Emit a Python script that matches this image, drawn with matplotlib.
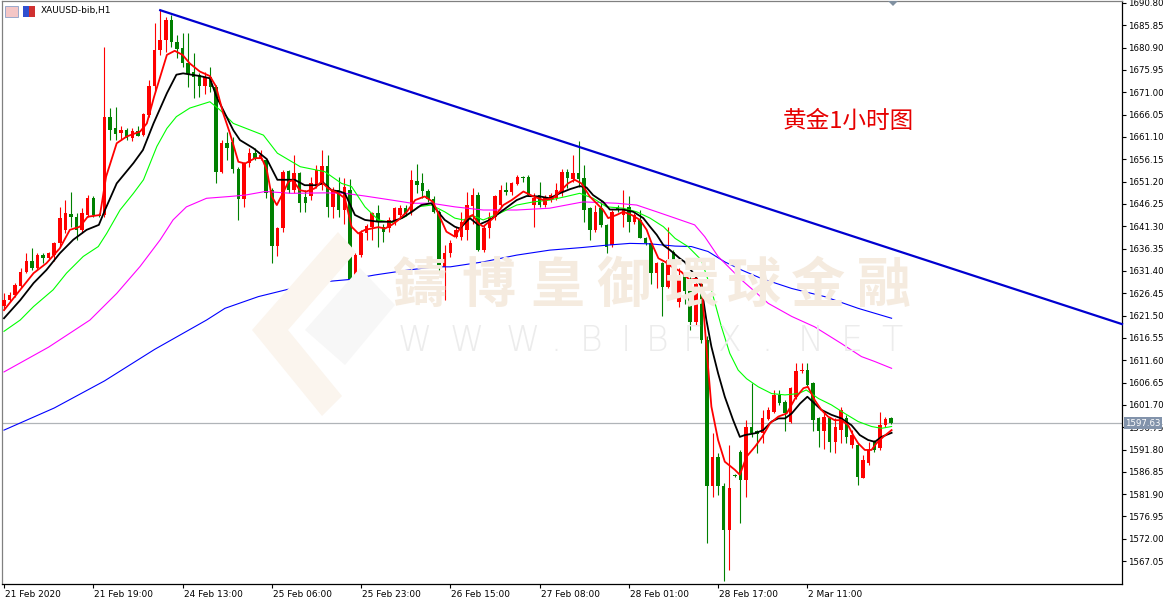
import matplotlib
matplotlib.use("Agg")
import matplotlib.pyplot as plt
from matplotlib.patches import Rectangle, Polygon
import matplotlib.transforms as mtransforms

# ---------------- data ----------------
opens = [1623.6, 1624.9, 1626.1, 1628.1, 1631.2, 1633.5, 1632.0, 1634.9, 1634.2, 1634.9,
         1637.5, 1640.5, 1644.0, 1643.3, 1640.5, 1643.8, 1647.5, 1643.8, 1643.8, 1665.6,
         1663.0, 1661.9, 1662.6, 1660.8, 1662.4, 1661.5, 1666.0, 1672.3, 1680.4, 1682.6,
         1687.0, 1682.2, 1680.9, 1677.4, 1675.4, 1674.8, 1672.4, 1674.3, 1672.1, 1653.4,
         1659.7, 1660.0, 1653.9, 1647.3, 1655.3, 1657.5, 1656.4, 1656.0, 1649.3, 1636.9,
         1640.8, 1653.6, 1649.3, 1653.2, 1647.7, 1647.9, 1650.4, 1650.4, 1654.6, 1645.6,
         1649.3, 1644.9, 1649.3, 1629.5, 1634.9, 1639.7, 1641.2, 1644.2, 1641.1, 1640.8,
         1642.3, 1643.8, 1645.3, 1644.5, 1651.4, 1650.8, 1649.2, 1647.3, 1644.5, 1632.3,
         1635.3, 1639.0, 1639.0, 1640.5, 1645.8, 1648.2, 1636.0, 1640.8, 1643.4, 1646.0,
         1649.3, 1649.0, 1650.7, 1652.3, 1652.3, 1646.0, 1648.2, 1646.0, 1647.1, 1647.5,
         1649.0, 1653.4, 1651.7, 1653.0, 1651.9, 1645.3, 1640.5, 1645.3, 1641.6, 1637.1,
         1645.6, 1643.8, 1645.6, 1642.3, 1642.7, 1638.8, 1637.5, 1630.9, 1633.1, 1627.9,
         1635.5, 1624.5, 1630.5, 1629.5, 1620.0, 1628.6, 1616.1, 1583.6, 1590.2, 1583.6,
         1574.0, 1586.2, 1591.3, 1585.0, 1596.9, 1595.8, 1595.4, 1598.5, 1600.2, 1603.9,
         1602.4, 1598.0, 1603.5, 1609.1, 1609.4, 1606.5, 1598.7, 1595.8, 1598.7, 1593.5,
         1596.1, 1598.7, 1592.8, 1592.8, 1585.4, 1588.7, 1593.5, 1592.1, 1597.2, 1598.7]
highs = [1626.4, 1626.8, 1628.8, 1632.0, 1635.3, 1636.4, 1635.3, 1635.3, 1635.7, 1637.9,
         1645.6, 1647.1, 1649.0, 1644.2, 1645.3, 1648.2, 1647.9, 1644.2, 1681.1, 1667.5,
         1667.8, 1663.5, 1663.0, 1663.0, 1663.5, 1666.5, 1673.7, 1686.3, 1689.2, 1687.8,
         1688.1, 1683.7, 1684.1, 1684.1, 1679.6, 1675.2, 1675.6, 1676.7, 1672.6, 1660.4,
         1662.3, 1661.0, 1654.5, 1655.6, 1658.6, 1658.6, 1658.2, 1656.4, 1649.7, 1641.1,
         1653.8, 1653.8, 1657.1, 1653.4, 1649.3, 1652.3, 1654.9, 1658.2, 1657.1, 1650.1,
         1652.3, 1651.9, 1651.7, 1635.3, 1640.5, 1641.9, 1644.5, 1646.0, 1641.9, 1643.4,
         1645.6, 1646.0, 1646.0, 1653.8, 1655.1, 1653.0, 1649.5, 1647.9, 1644.9, 1637.1,
         1638.3, 1641.2, 1644.5, 1649.0, 1649.7, 1648.9, 1641.6, 1644.5, 1648.2, 1650.4,
         1651.2, 1651.2, 1652.7, 1652.4, 1652.7, 1648.6, 1651.2, 1648.2, 1648.6, 1650.8,
         1654.1, 1654.1, 1657.1, 1660.1, 1654.9, 1645.6, 1646.0, 1647.1, 1641.9, 1644.9,
         1646.0, 1649.3, 1647.9, 1644.2, 1644.9, 1639.0, 1637.9, 1633.4, 1633.4, 1641.2,
         1636.0, 1632.0, 1631.0, 1630.1, 1629.5, 1629.0, 1617.0, 1595.4, 1591.0, 1584.3,
         1592.8, 1586.3, 1591.7, 1598.3, 1606.5, 1596.1, 1600.6, 1601.3, 1605.0, 1605.0,
         1602.8, 1605.7, 1610.9, 1610.9, 1610.9, 1606.8, 1598.9, 1600.2, 1599.1, 1598.7,
         1601.3, 1599.5, 1596.1, 1593.2, 1590.6, 1593.5, 1593.9, 1600.2, 1599.1, 1598.9]
lows = [1622.7, 1624.6, 1625.7, 1627.5, 1630.9, 1631.6, 1631.6, 1633.1, 1633.8, 1633.5,
        1636.8, 1639.7, 1641.2, 1638.3, 1639.7, 1643.4, 1643.4, 1643.3, 1643.4, 1660.4,
        1660.4, 1660.4, 1660.4, 1660.1, 1661.2, 1661.2, 1665.6, 1671.1, 1679.3, 1680.0,
        1681.1, 1678.5, 1676.7, 1672.2, 1669.7, 1670.0, 1670.6, 1671.1, 1650.8, 1653.0,
        1656.0, 1653.0, 1642.7, 1645.6, 1654.5, 1656.0, 1656.0, 1647.5, 1633.1, 1634.6,
        1640.1, 1648.6, 1648.6, 1644.5, 1644.5, 1647.1, 1649.7, 1649.3, 1643.4, 1643.1,
        1643.4, 1641.9, 1625.7, 1629.4, 1634.5, 1638.3, 1638.3, 1636.8, 1637.9, 1640.1,
        1641.6, 1643.4, 1643.6, 1643.8, 1648.6, 1647.5, 1646.7, 1644.2, 1631.2, 1624.9,
        1634.5, 1638.6, 1638.3, 1638.3, 1641.9, 1635.9, 1635.7, 1638.6, 1642.7, 1645.6,
        1648.2, 1648.2, 1650.4, 1651.2, 1647.9, 1641.2, 1645.6, 1645.6, 1646.7, 1647.1,
        1647.9, 1649.7, 1651.2, 1650.1, 1642.3, 1638.3, 1640.1, 1641.2, 1635.3, 1636.8,
        1644.5, 1641.2, 1640.1, 1641.9, 1638.6, 1637.1, 1628.6, 1627.5, 1621.3, 1627.5,
        1625.7, 1623.5, 1624.0, 1618.3, 1619.5, 1615.5, 1571.0, 1581.3, 1581.7, 1562.6,
        1565.1, 1585.8, 1575.4, 1581.3, 1594.6, 1591.0, 1593.2, 1598.3, 1599.8, 1601.7,
        1595.8, 1597.6, 1603.1, 1608.8, 1605.7, 1595.8, 1592.4, 1592.0, 1591.3, 1591.0,
        1593.2, 1593.2, 1592.1, 1583.9, 1585.4, 1588.4, 1591.3, 1591.7, 1596.9, 1597.5]
closes = [1624.9, 1626.1, 1628.3, 1631.2, 1633.5, 1632.0, 1634.9, 1634.2, 1635.3, 1637.5,
          1643.1, 1644.2, 1643.3, 1640.5, 1644.2, 1647.5, 1643.8, 1643.6, 1665.6, 1662.6,
          1661.7, 1662.6, 1660.8, 1662.4, 1661.3, 1666.1, 1672.4, 1680.4, 1682.6, 1687.0,
          1682.2, 1680.5, 1677.4, 1675.1, 1674.5, 1672.4, 1674.5, 1672.1, 1653.4, 1659.7,
          1658.6, 1654.0, 1647.3, 1655.3, 1657.5, 1656.4, 1657.1, 1648.6, 1636.9, 1640.8,
          1653.4, 1649.3, 1653.0, 1646.4, 1646.4, 1650.8, 1653.8, 1654.6, 1645.6, 1649.3,
          1644.9, 1650.1, 1629.5, 1634.9, 1639.9, 1641.4, 1644.3, 1642.3, 1640.1, 1642.7,
          1645.3, 1645.3, 1644.0, 1651.5, 1650.4, 1649.2, 1647.3, 1644.5, 1632.3, 1635.3,
          1637.5, 1640.5, 1642.3, 1646.0, 1648.2, 1636.0, 1640.8, 1643.4, 1647.9, 1649.3,
          1648.9, 1650.8, 1652.3, 1651.9, 1648.2, 1647.5, 1646.0, 1647.5, 1648.2, 1649.3,
          1653.4, 1651.9, 1653.0, 1651.7, 1644.9, 1640.5, 1644.5, 1641.6, 1636.8, 1644.5,
          1644.9, 1644.9, 1642.3, 1643.8, 1638.8, 1637.5, 1630.9, 1633.1, 1627.9, 1633.8,
          1628.0, 1630.5, 1627.0, 1620.0, 1628.6, 1616.1, 1583.6, 1590.2, 1583.6, 1574.0,
          1583.2, 1586.0, 1585.0, 1596.9, 1595.4, 1595.2, 1598.7, 1600.6, 1603.9, 1602.0,
          1599.8, 1605.4, 1609.1, 1609.4, 1606.1, 1598.3, 1595.8, 1599.1, 1593.5, 1596.9,
          1600.6, 1594.6, 1595.0, 1585.8, 1589.5, 1591.7, 1591.7, 1597.2, 1598.5, 1597.63]

# moving averages as (bar position, price)
ma_red = [(0, 1622.7), (2.9, 1627.2), (5.3, 1630.9), (7.6, 1633.1), (10, 1636.4), (11.8, 1640.5),
          (13.6, 1641.2), (15, 1643.4), (17.2, 1643.8), (18.3, 1652.3), (20.2, 1659.7), (22, 1661.2),
          (24.4, 1662.3), (25.6, 1664.1), (26.9, 1670.0), (29.2, 1679.3), (30.6, 1680.2), (32, 1679.3),
          (33.3, 1677.4), (35.1, 1675.6), (36.9, 1674.6), (38, 1672.3), (39.3, 1666.3), (40.5, 1661.9),
          (42, 1655.6), (43.2, 1655.2), (45, 1656.4), (46.2, 1656.4), (47.1, 1653.8), (48, 1647.9),
          (48.9, 1646.0), (50.1, 1648.9), (51, 1651.2), (51.8, 1651.5), (53, 1649.3), (54.2, 1649.0),
          (55.7, 1649.7), (56.9, 1651.2), (58.1, 1649.7), (59.9, 1648.6), (61.1, 1647.5), (62.3, 1641.2),
          (63.5, 1639.7), (64.7, 1640.5), (65.9, 1640.8), (67.1, 1641.1), (68.3, 1640.8), (69.5, 1641.6),
          (70.7, 1642.7), (72.2, 1644.5), (73.7, 1647.1), (75.4, 1647.9), (76.9, 1646.7), (78.1, 1643.4),
          (79.3, 1640.1), (80.8, 1639.0), (82.9, 1643.1), (84, 1643.8), (85, 1642.0), (85.9, 1641.2),
          (87.7, 1643.1), (89.5, 1646.0), (91, 1647.1), (93.1, 1649.0), (94.9, 1647.9), (96.7, 1647.1),
          (98.4, 1647.5), (99.9, 1649.3), (101.1, 1650.8), (102.3, 1651.6), (103.5, 1650.8), (105, 1647.9),
          (106.2, 1646.4), (107.4, 1644.9), (108.3, 1643.1), (109.8, 1643.8), (111, 1644.5), (112.5, 1643.8),
          (114, 1642.7), (115.2, 1640.5), (116.1, 1637.5), (117.3, 1634.2), (118.5, 1633.4), (119.7, 1632.3),
          (121.4, 1631.2), (122.9, 1629.4), (124.1, 1629.7), (125, 1628.6), (125.9, 1614.6), (126.8, 1601.3),
          (128, 1593.9), (129.2, 1589.1), (131, 1587.3), (131.9, 1586.2), (133.1, 1590.2), (134.6, 1592.4),
          (135.9, 1594.6), (137.3, 1597.6), (138.8, 1599.1), (140.3, 1599.8), (141.8, 1603.1), (143.3, 1605.4),
          (144.1, 1605.7), (145.3, 1602.8), (146.5, 1600.6), (147.7, 1599.1), (148.9, 1598.3), (150.1, 1598.3),
          (151.3, 1597.2), (152.2, 1595.0), (153.1, 1593.2), (154.3, 1591.7), (155.5, 1591.7), (156.4, 1593.2),
          (157.6, 1594.6), (159.1, 1596.1)]
ma_black = [(0, 1620.9), (2.9, 1624.9), (5.3, 1628.7), (7.6, 1631.6), (10, 1635.3), (12.4, 1638.3),
            (14.8, 1640.5), (17, 1641.6), (18.1, 1644.9), (20.2, 1650.8), (23.2, 1655.3), (24.9, 1658.2),
            (26.8, 1664.1), (29.2, 1670.8), (30.9, 1674.9), (32.1, 1675.2), (35.1, 1674.6), (36.9, 1674.1),
            (38.1, 1670.0), (41.1, 1662.6), (42.3, 1660.4), (44.7, 1658.6), (47.1, 1656.2), (49, 1651.6),
            (51, 1651.6), (52.1, 1651.6), (53.9, 1650.4), (56.3, 1650.4), (57.2, 1651.0), (58.7, 1649.3),
            (60.2, 1649.0), (61.1, 1648.6), (62.9, 1643.8), (64.7, 1642.7), (67.1, 1642.3), (69.5, 1642.3),
            (71.3, 1643.1), (73.1, 1644.5), (74.8, 1646.0), (76.6, 1646.4), (77.8, 1644.5), (79, 1642.7),
            (80.8, 1641.2), (81.7, 1640.8), (83.5, 1643.1), (85, 1641.6), (87.1, 1642.7), (89.5, 1644.9),
            (91.9, 1647.1), (93.7, 1648.0), (96.1, 1647.9), (97.8, 1647.5), (99.6, 1648.6), (101.4, 1649.5),
            (103.2, 1650.2), (104.4, 1649.9), (105.6, 1648.2), (107.4, 1646.7), (108.6, 1645.0), (111, 1645.0),
            (112.8, 1644.5), (114.6, 1643.1), (115.8, 1641.2), (117, 1639.4), (118.2, 1637.1), (119.4, 1636.0),
            (121.1, 1634.2), (122, 1633.4), (123.8, 1630.5), (125, 1627.9), (125.9, 1620.5), (126.8, 1614.6),
            (128, 1608.7), (129.2, 1603.5), (130.7, 1598.3), (131.9, 1594.6), (132.8, 1595.0), (134.6, 1595.4),
            (136.1, 1596.1), (137.6, 1598.0), (138.8, 1598.7), (140, 1598.7), (141.2, 1599.8), (142.7, 1602.0),
            (144, 1603.5), (145.3, 1602.0), (146.5, 1600.6), (148.3, 1599.5), (150.1, 1598.7), (151.9, 1597.2),
            (153.4, 1595.0), (154.9, 1593.9), (156.1, 1593.5), (157.3, 1594.6), (159.1, 1595.5)]
ma_green = [(0, 1618.0), (2.9, 1620.5), (5.3, 1623.5), (8.8, 1627.2), (11.2, 1630.9), (14.2, 1634.6),
            (16.9, 1636.8), (18.4, 1639.7), (20.8, 1644.9), (23.2, 1648.6), (25, 1651.6), (27.4, 1659.0),
            (29.2, 1663.0), (30.9, 1665.6), (33.3, 1667.5), (35.1, 1668.2), (36.9, 1668.9), (38.7, 1667.1),
            (41.1, 1664.1), (46.5, 1661.5), (49, 1657.5), (53.1, 1654.5), (57.5, 1653.4), (60.5, 1650.8),
            (62.3, 1650.1), (64.7, 1645.6), (67.1, 1642.7), (69.5, 1642.1), (71.9, 1643.4), (74.2, 1645.6),
            (76.6, 1646.0), (79, 1644.5), (80.8, 1643.1), (82.3, 1642.7), (84.1, 1643.6), (85.9, 1642.7),
            (88.9, 1644.2), (91.9, 1646.0), (94.9, 1646.7), (97.8, 1647.1), (100.8, 1647.9), (103.2, 1648.6),
            (105.6, 1647.5), (108, 1645.6), (111, 1645.3), (113.4, 1644.5), (115.8, 1643.1), (118.2, 1641.2),
            (120.3, 1638.6), (122.6, 1636.8), (125, 1633.8), (126.8, 1627.2), (128.6, 1619.0), (130.1, 1613.1),
            (131.6, 1609.4), (133.1, 1607.5), (135.2, 1605.7), (137.6, 1604.2), (140, 1603.9), (142.4, 1604.2),
            (143.8, 1605.0), (146, 1603.1), (148.3, 1601.7), (150.7, 1599.8), (153.1, 1598.0), (155.5, 1596.9),
            (157.3, 1596.5), (159.1, 1596.9)]
ma_magenta = [(0, 1609.0), (8, 1614.5), (15.4, 1620.5), (20.2, 1626.4), (24.4, 1632.4), (28, 1638.3),
              (30.3, 1642.7), (32.7, 1645.6), (36.3, 1647.5), (40.5, 1647.9), (43.2, 1648.2), (46.8, 1649.0),
              (51.5, 1648.6), (57.5, 1648.7), (61.1, 1648.6), (64.7, 1648.0), (69.5, 1647.1), (73.1, 1646.4),
              (76.6, 1646.4), (80.8, 1645.6), (85.9, 1644.9), (91.9, 1644.9), (97.8, 1645.3), (103.8, 1646.7),
              (109.8, 1646.4), (113.4, 1646.0), (117, 1644.5), (120.3, 1643.1), (123.8, 1641.6), (125.6, 1639.0),
              (128, 1634.6), (132.2, 1629.4), (137, 1624.2), (141.2, 1621.3), (145.3, 1619.0), (150.1, 1615.3),
              (153.7, 1612.4), (156.1, 1611.3), (159.1, 1609.8)]
ma_blue = [(0, 1596.1), (9, 1601.0), (18, 1607.0), (27, 1614.0), (36.3, 1620.5), (39.6, 1623.1),
           (45.6, 1625.7), (51.5, 1627.5), (57.5, 1629.0), (62, 1629.5), (66.5, 1630.5), (72.5, 1631.6),
           (77.2, 1632.3), (80, 1632.3), (85.9, 1633.4), (91.9, 1634.9), (97.8, 1636.0), (103.8, 1636.6),
           (108, 1637.1), (112.2, 1637.5), (115.8, 1637.4), (120.3, 1636.9), (123.2, 1636.8), (126.2, 1635.7),
           (129.2, 1633.4), (132.2, 1631.6), (135.8, 1629.7), (141.2, 1627.5), (147.1, 1625.7), (153.1, 1623.1),
           (159.1, 1620.9)]

trend_line = [(28, 1689.2), (200.4, 1619.6)]
last_price = 1597.63

x_tick_pos = [0, 16, 32, 48, 64, 80, 96, 112, 128, 144]
x_tick_labels = ["21 Feb 2020", "21 Feb 19:00", "24 Feb 13:00", "25 Feb 06:00", "25 Feb 23:00",
                 "26 Feb 15:00", "27 Feb 08:00", "28 Feb 01:00", "28 Feb 17:00", "2 Mar 11:00"]
y_tick_labels = ["1567.05", "1572.00", "1576.95", "1581.90", "1586.85", "1591.80", "1596.75",
                 "1601.70", "1606.65", "1611.60", "1616.55", "1621.50", "1626.45", "1631.40",
                 "1636.35", "1641.30", "1646.25", "1651.20", "1656.15", "1661.10", "1666.05",
                 "1671.00", "1675.95", "1680.90", "1685.85", "1690.80"]

title_text = "XAUUSD-bib,H1"
note_text = "黄金1小时图"
wm_chars = "鑄博皇御環球金融"
wm_web = "WWW.BIBFX.NET"

# ---------------- figure ----------------
W, H = 1170, 600
fig = plt.figure(figsize=(W / 100, H / 100), dpi=100)
fig.patch.set_facecolor("white")


def fx(px):
    return px / W


def fy(py):
    return 1 - py / H


# watermark (behind axes)
wm_x = [419, 488, 557, 623, 691, 754, 818, 884]
for ch, cx in zip(wm_chars, wm_x):
    fig.text(fx(cx), fy(287), ch, fontsize=39, color="#f5ebdf", ha="center", va="center",
             family=["Noto Sans CJK TC", "DejaVu Sans"], fontweight="bold", zorder=0)
web_x = [415, 467, 523, 556, 591, 626, 657, 693, 730, 767, 811, 852, 892]
for ch, cx in zip(wm_web, web_x):
    fig.text(fx(cx), fy(341), ch, fontsize=25, color="#ececec", ha="center", va="center",
             family="DejaVu Sans", fontweight="light", zorder=0)
logo1 = Polygon([(fx(252), fy(330)), (fx(338), fy(232)), (fx(356), fy(252)), (fx(288), fy(330)),
                 (fx(342), fy(396)), (fx(322), fy(416))], closed=True, transform=fig.transFigure,
                facecolor="#fbf5ee", edgecolor="none", zorder=0)
logo2 = Polygon([(fx(305), fy(330)), (fx(360), fy(268)), (fx(395), fy(305)), (fx(345), fy(365))],
                closed=True, transform=fig.transFigure, facecolor="#f7f7f7", edgecolor="none", zorder=0)
fig.patches.extend([logo1, logo2])

ax = fig.add_axes([fx(2), 16 / H, (1122 - 2) / W, (584 - 1) / H])
ax.set_facecolor("none")
ax.set_xlim(-0.36, 200.4)
ax.set_ylim(1561.98, 1691.24)

# last price line
ax.axhline(last_price, color="#b0b4b8", lw=0.9, zorder=1)

# candles
up_col, dn_col = "#ff0000", "#008000"
for i, (o, h, l, c) in enumerate(zip(opens, highs, lows, closes)):
    col = up_col if c >= o else dn_col
    ax.vlines(i, l, h, color=col, lw=0.8, zorder=3)
    bottom = min(o, c)
    height = max(abs(c - o), 0.18)
    ax.add_patch(Rectangle((i - 0.31, bottom), 0.62, height, facecolor=col, edgecolor="none", zorder=3))


def draw_ma(points, color, lw):
    xs = [p[0] for p in points]
    ys = [p[1] for p in points]
    ax.plot(xs, ys, color=color, lw=lw, zorder=4, solid_joinstyle="round")


draw_ma(ma_blue, "#0000ff", 0.8)
draw_ma(ma_magenta, "#ff00ff", 0.8)
draw_ma(ma_green, "#00ff00", 0.8)
draw_ma(ma_black, "#000000", 1.3)
draw_ma(ma_red, "#ff0000", 1.3)

ax.plot([p[0] for p in trend_line], [p[1] for p in trend_line], color="#0000d0", lw=1.6, zorder=5,
        clip_on=False)

# axes styling
for s in ax.spines.values():
    s.set_color("#000000")
    s.set_linewidth(0.9)
ax.spines["left"].set_color("#808080")
ax.spines["top"].set_color("#808080")

ax.yaxis.tick_right()
yvals = [float(v) for v in y_tick_labels]
ax.set_yticks(yvals)
ax.set_yticklabels(y_tick_labels)
ax.tick_params(axis="y", direction="out", length=3, width=0.8, pad=1, labelsize=6.2, colors="#000000")
ax.set_xticks(x_tick_pos)
ax.set_xticklabels(x_tick_labels)
ax.tick_params(axis="x", direction="out", length=3, width=0.8, pad=1.5, labelsize=6.5, colors="#000000")
offset = mtransforms.ScaledTranslation(1 / 100, 0, fig.dpi_scale_trans)
for lab in ax.get_xticklabels():
    lab.set_horizontalalignment("left")
    lab.set_transform(lab.get_transform() + offset)

# last-price label box
ax.text(1.003, last_price, f"{last_price:.2f}", transform=ax.get_yaxis_transform(),
        fontsize=6.2, color="white", ha="left", va="center", zorder=6, clip_on=False,
        bbox=dict(boxstyle="square,pad=0.15", facecolor="#8293ab", edgecolor="none"))

# title & icons
fig.patches.append(Rectangle((fx(5), fy(17)), 13 / W, 11 / H, transform=fig.transFigure,
                             facecolor="#f4c6c6", edgecolor="#8aa0c8", lw=0.6))
fig.patches.append(Rectangle((fx(23), fy(17)), 6 / W, 11 / H, transform=fig.transFigure,
                             facecolor="#3050d0", edgecolor="none"))
fig.patches.append(Rectangle((fx(29), fy(17)), 6 / W, 11 / H, transform=fig.transFigure,
                             facecolor="#d03030", edgecolor="none"))
fig.text(fx(41), fy(11), title_text, fontsize=6.5, color="#000000", ha="left", va="center")

# small shift marker at top
fig.patches.append(Polygon([(fx(888), fy(1)), (fx(898), fy(1)), (fx(893), fy(6))], closed=True,
                           transform=fig.transFigure, facecolor="#8090a0", edgecolor="none"))

# annotation
fig.text(fx(783), fy(121), note_text, fontsize=17, color="#e60000", ha="left", va="center",
         family=["Noto Sans CJK SC", "DejaVu Sans"])

fig.savefig("out.png", dpi=100)
